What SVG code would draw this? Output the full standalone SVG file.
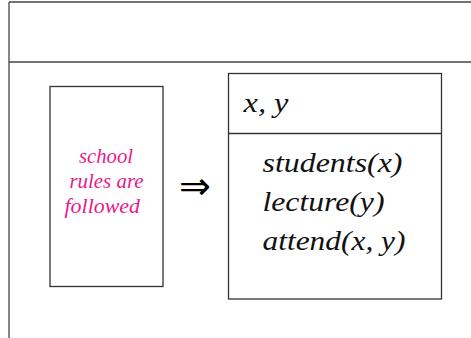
<svg xmlns="http://www.w3.org/2000/svg" width="471" height="338" viewBox="0 0 471 338">
<style>
.ln{stroke:#444;stroke-width:1.3;fill:none}
.box{stroke:#333;stroke-width:1.3;fill:#fff}
.pk{font-family:'Liberation Serif','Times New Roman',serif;font-style:italic;font-size:20px;fill:#e8198e}
.bl{font-family:'Liberation Serif','Times New Roman',serif;font-style:italic;font-size:28px;fill:#111}
.ar{font-family:'DejaVu Sans',sans-serif;font-size:38px;fill:#000;text-anchor:middle}
</style>
<rect width="471" height="338" fill="#fff"/>
<g id="frame">
<line class="ln" x1="9" y1="2" x2="471" y2="2"/>
<line class="ln" x1="9" y1="2" x2="9" y2="338"/>
<line class="ln" x1="9" y1="62" x2="471" y2="62"/>
</g>
<g id="condition">
<rect class="box" x="50" y="86.5" width="113" height="200"/>
<text class="pk" x="79" y="163" textLength="54" lengthAdjust="spacingAndGlyphs">school</text>
<text class="pk" x="69.5" y="188" textLength="74" lengthAdjust="spacingAndGlyphs">rules are</text>
<text class="pk" x="64.5" y="213" textLength="75.5" lengthAdjust="spacingAndGlyphs">followed</text>
</g>
<g id="connectors">
<text class="ar" x="195" y="199">⇒</text>
</g>
<g id="drs">
<rect class="box" x="228.5" y="73.5" width="213" height="225.5"/>
<line class="box" x1="228.5" y1="133.5" x2="441.5" y2="133.5"/>
<text class="bl" x="243.5" y="112" textLength="45" lengthAdjust="spacingAndGlyphs">x, y</text>
<text class="bl" x="262.5" y="172" textLength="140" lengthAdjust="spacingAndGlyphs">students(x)</text>
<text class="bl" x="262.5" y="211" textLength="122" lengthAdjust="spacingAndGlyphs">lecture(y)</text>
<text class="bl" x="262.5" y="250" textLength="143" lengthAdjust="spacingAndGlyphs">attend(x, y)</text>
</g>
</svg>
